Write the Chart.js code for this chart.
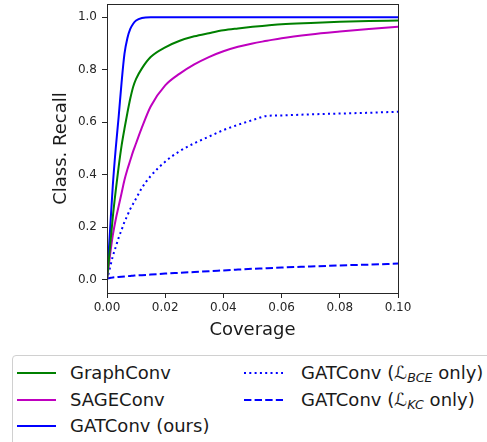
<!DOCTYPE html>
<html>
<head>
<meta charset="utf-8">
<script src="https://cdn.jsdelivr.net/npm/chart.js@4/dist/chart.umd.min.js"></script>
<style>
  body { margin: 0; background: #fff; overflow: hidden; width: 487px; height: 442px; font-family: "DejaVu Sans", sans-serif; }
  #wrap { position: absolute; left: 0; top: 0; width: 487px; height: 345px; }
  #legend { position: absolute; left: 12px; top: 355px; width: 520px; height: 110px; border: 1px solid #d0d0d0; border-radius: 4px; box-sizing: border-box; }
  .item { position: absolute; font-size: 18px; color: #1a1a1a; white-space: nowrap; line-height: 20px; }
  .item svg { position: absolute; top: 0; }
  .item span { position: absolute; top: 0; }
  sub { font-size: 70%; font-style: italic; vertical-align: -3px; }
</style>
</head>
<body>
<div id="wrap"><canvas id="recallChart"></canvas></div>
<div id="legend"></div>
<script>
// coverage grid shared by all curves
const coverage = [0, 0.001, 0.002, 0.003, 0.004, 0.005, 0.006, 0.007, 0.008, 0.009, 0.010, 0.012, 0.015,
                  0.02, 0.025, 0.03, 0.035, 0.04, 0.045, 0.05, 0.055, 0.06, 0.07, 0.08, 0.09, 0.1];

const graphConv = [0, 0.12, 0.24, 0.34, 0.43, 0.51, 0.575, 0.635, 0.69, 0.735, 0.765, 0.805, 0.848,
                   0.885, 0.91, 0.927, 0.939, 0.95, 0.957, 0.963, 0.968, 0.973, 0.978, 0.982, 0.985, 0.987];
const sageConv  = [0, 0.09, 0.17, 0.23, 0.28, 0.33, 0.38, 0.42, 0.455, 0.49, 0.52, 0.58, 0.66,
                   0.74, 0.785, 0.82, 0.848, 0.87, 0.887, 0.9, 0.91, 0.92, 0.934, 0.945, 0.955, 0.963];
const gatOurs   = [0, 0.18, 0.36, 0.5, 0.62, 0.75, 0.86, 0.92, 0.955, 0.975, 0.987, 0.997, 1.0,
                   1.0, 1.0, 1.0, 1.0, 1.0, 1.0, 1.0, 1.0, 1.0, 1.0, 1.0, 1.0, 1.0];
const gatBce    = [0, 0.045, 0.09, 0.125, 0.16, 0.19, 0.22, 0.245, 0.27, 0.29, 0.31, 0.35, 0.395,
                   0.45, 0.49, 0.52, 0.545, 0.57, 0.59, 0.608, 0.624, 0.626, 0.63, 0.633, 0.636, 0.64];
const gatKc     = [0.005, 0.007, 0.009, 0.01, 0.011, 0.012, 0.013, 0.014, 0.015, 0.016, 0.017, 0.018, 0.02,
                   0.024, 0.027, 0.03, 0.033, 0.036, 0.039, 0.042, 0.044, 0.047, 0.051, 0.055, 0.058, 0.062];

const xTicks = [0, 0.02, 0.04, 0.06, 0.08, 0.1];
const yTicks = [0, 0.2, 0.4, 0.6, 0.8, 1.0];

const seriesNames = ['GraphConv', 'SAGEConv', 'GATConv (ours)', 'GATConv (ℒBCE only)', 'GATConv (ℒKC only)'];
const seriesColors = ['#008000', '#bf00bf', '#0000ff', '#0000ff', '#0000ff'];
const seriesDash = [[], [], [], [2, 3.3], [7.4, 3.2]];
const allSeries = [graphConv, sageConv, gatOurs, gatBce, gatKc];

const font = '"DejaVu Sans", sans-serif';

const datasets = allSeries.map((vals, i) => ({
    label: seriesNames[i],
    data: coverage.map((c, k) => ({ x: c, y: vals[k] })),
    borderColor: seriesColors[i],
    borderWidth: 2,
    borderDash: seriesDash[i],
    pointRadius: 0,
    fill: false,
    cubicInterpolationMode: 'monotone'
}));

// matplotlib style box round the axes
const frame = {
    id: 'frame',
    afterDatasetsDraw(chart) {
        const a = chart.chartArea;
        const ctx = chart.ctx;
        ctx.save();
        ctx.strokeStyle = '#262626';
        ctx.lineWidth = 1;
        ctx.strokeRect(a.left + 0.5, a.top + 0.5, a.right - a.left, a.bottom - a.top);
        ctx.restore();
    }
};

// drop the label padding chart.js adds at the ends of the axes
function noPad(s) {
    s.paddingTop = 0; s.paddingBottom = 0;
    s.paddingLeft = 0; s.paddingRight = 0;
}

new Chart(document.getElementById('recallChart'), {
    type: 'line',
    data: { datasets: datasets },
    options: {
        responsive: true,
        maintainAspectRatio: false,
        animation: false,
        layout: { padding: { left: 0, right: 89, top: 4, bottom: 0 } },
        plugins: { legend: { display: false }, tooltip: { enabled: false } },
        scales: {
            x: {
                type: 'linear',
                min: 0, max: 0.1,
                afterBuildTicks: s => { s.ticks = xTicks.map(v => ({ value: v })); },
                afterFit: s => { s.height = 52; noPad(s); },
                grid: { drawOnChartArea: false, drawTicks: true, tickLength: 5, color: '#262626' },
                border: { display: true, color: '#262626', width: 1 },
                ticks: {
                    color: '#262626', padding: 3, maxRotation: 0,
                    font: { family: font, size: 12 },
                    callback: v => Number(v).toFixed(2)
                },
                title: { display: true, text: 'Coverage', color: '#1a1a1a', font: { family: font, size: 18 }, padding: { bottom: 4 } }
            },
            y: {
                type: 'linear',
                min: -0.05, max: 1.05,
                afterBuildTicks: s => { s.ticks = yTicks.map(v => ({ value: v })); },
                afterFit: s => { s.width = 107; noPad(s); },
                grid: { drawOnChartArea: false, drawTicks: true, tickLength: 5, color: '#262626' },
                border: { display: true, color: '#262626', width: 1 },
                ticks: {
                    color: '#262626', padding: 5,
                    font: { family: font, size: 12 },
                    callback: v => Number(v).toFixed(1)
                },
                title: { display: true, text: 'Class. Recall', color: '#1a1a1a', font: { family: font, size: 18 }, padding: { top: 51 } }
            }
        }
    },
    plugins: [frame]
});

// legend (html so the subscripts stay real text)
const legendItems = [
    { col: 0, row: 0, html: 'GraphConv' },
    { col: 0, row: 1, html: 'SAGEConv' },
    { col: 0, row: 2, html: 'GATConv (ours)' },
    { col: 1, row: 0, html: 'GATConv (<i>ℒ</i><sub>BCE</sub> only)' },
    { col: 1, row: 1, html: 'GATConv (<i>ℒ</i><sub>KC</sub> only)' }
];
const legend = document.getElementById('legend');
legendItems.forEach((it, k) => {
    const d = document.createElement('div');
    d.className = 'item';
    d.style.left = (it.col === 0 ? 4 : 231) + 'px';
    d.style.top = (7 + it.row * 26.5) + 'px';
    const dash = seriesDash[k].length ? seriesDash[k].join(' ') : 'none';
    d.innerHTML = '<svg width="40" height="20"><line x1="0" y1="10" x2="39" y2="10" stroke="' + seriesColors[k] +
        '" stroke-width="2" stroke-dasharray="' + dash + '"/></svg><span style="left:' + (it.col === 0 ? 53 : 57) + 'px">' + it.html + '</span>';
    legend.appendChild(d);
});
</script>
</body>
</html>
